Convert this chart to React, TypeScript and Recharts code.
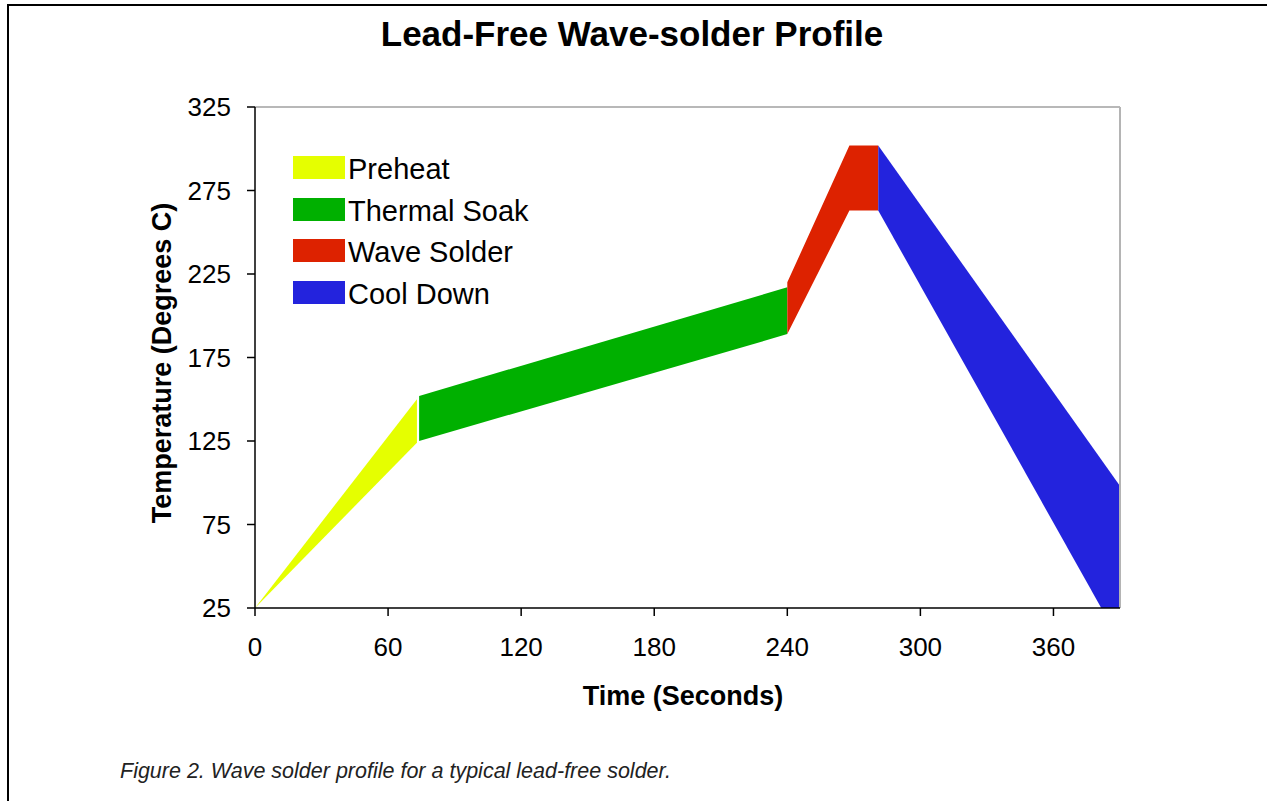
import { ComposedChart, Area, XAxis, YAxis, ReferenceLine } from "recharts";

const FONT = '"Liberation Sans", Arial, sans-serif';

// time in seconds, temperature band [low, high] in °C
const preheat = [
  { t: 0, low: 25, high: 25 },
  { t: 73, low: 124, high: 150 },
];
const thermalSoak = [
  { t: 74, low: 125, high: 152 },
  { t: 240, low: 189, high: 217 },
];
const waveSolder = [
  { t: 240, low: 189, high: 220 },
  { t: 268, low: 263, high: 302 },
  { t: 281, low: 263, high: 302 },
];
const coolDown = [
  { t: 281, low: 263, high: 302 },
  { t: 390, low: 5, high: 98 },
];

const BANDS = [
  { name: "Preheat", color: "#e5ff00", data: preheat },
  { name: "Thermal Soak", color: "#00b000", data: thermalSoak },
  { name: "Wave Solder", color: "#dd2200", data: waveSolder },
  { name: "Cool Down", color: "#2323dd", data: coolDown },
];

const X_TICKS = [0, 60, 120, 180, 240, 300, 360];
const Y_TICKS = [25, 75, 125, 175, 225, 275, 325];

const band = (d: { low: number; high: number }) => [d.low, d.high];

export default function App() {
  return (
    <div
      style={{
        position: "absolute",
        left: 0,
        top: 0,
        width: 1267,
        height: 801,
        overflow: "hidden",
        background: "#fff",
        fontFamily: FONT,
      }}
    >
      <div
        style={{
          position: "absolute",
          left: 7,
          top: 4,
          width: 1400,
          height: 1000,
          borderLeft: "2px solid #000",
          borderTop: "2px solid #000",
        }}
      />
      <div style={{ position: "absolute", left: 0, top: 0 }}>
        <ComposedChart
          width={1267}
          height={801}
          margin={{ top: 107, right: 147, bottom: 133, left: 175 }}
        >
          <XAxis
            type="number"
            dataKey="t"
            domain={[0, 390]}
            ticks={X_TICKS}
            interval={0}
            allowDataOverflow
            height={60}
            tickSize={8}
            tickMargin={22}
            axisLine={{ stroke: "#000", strokeWidth: 1.5 }}
            tickLine={{ stroke: "#000", strokeWidth: 1.5 }}
            tick={{ fill: "#000", fontSize: 26, fontFamily: FONT }}
          />
          <YAxis
            type="number"
            domain={[25, 325]}
            ticks={Y_TICKS}
            interval={0}
            allowDataOverflow
            width={80}
            tickSize={8}
            tickMargin={16}
            axisLine={{ stroke: "#000", strokeWidth: 1.5 }}
            tickLine={{ stroke: "#000", strokeWidth: 1.5 }}
            tick={{ fill: "#000", fontSize: 26, fontFamily: FONT }}
          />
          <ReferenceLine y={325} stroke="#a0a0a0" strokeWidth={1.5} />
          <ReferenceLine x={390} stroke="#b4b4b4" strokeWidth={2} />
          {BANDS.map((b) => (
            <Area
              key={b.name}
              name={b.name}
              data={b.data}
              dataKey={band}
              type="linear"
              stroke="none"
              fill={b.color}
              fillOpacity={1}
              dot={false}
              activeDot={false}
              isAnimationActive={false}
            />
          ))}
        </ComposedChart>
      </div>

      <div style={{ position: "absolute", left: 293, top: 156 }}>
        {BANDS.map((b) => (
          <div
            key={b.name}
            style={{ display: "flex", alignItems: "center", height: 23, marginBottom: 18.5 }}
          >
            <div style={{ width: 52, height: 23, background: b.color }} />
            <span style={{ marginLeft: 3, fontSize: 29, lineHeight: "23px", color: "#000", position: "relative", top: 2 }}>
              {b.name}
            </span>
          </div>
        ))}
      </div>

      <svg
        width={1267}
        height={801}
        style={{ position: "absolute", left: 0, top: 0, pointerEvents: "none" }}
      >
        <text x={632} y={46} textAnchor="middle" fontSize={35} fontWeight="bold" fontFamily={FONT} fill="#000">
          Lead-Free Wave-solder Profile
        </text>
        <text x={683} y={705} textAnchor="middle" fontSize={27} fontWeight="bold" fontFamily={FONT} fill="#000">
          Time (Seconds)
        </text>
        <text
          x={171}
          y={363}
          transform="rotate(-90 171 363)"
          textAnchor="middle"
          fontSize={27}
          fontWeight="bold"
          fontFamily={FONT}
          fill="#000"
        >
          Temperature (Degrees C)
        </text>
        <text x={120} y={778} fontSize={21.5} fontStyle="italic" fontFamily={FONT} fill="#222">
          Figure 2. Wave solder profile for a typical lead-free solder.
        </text>
      </svg>
    </div>
  );
}
